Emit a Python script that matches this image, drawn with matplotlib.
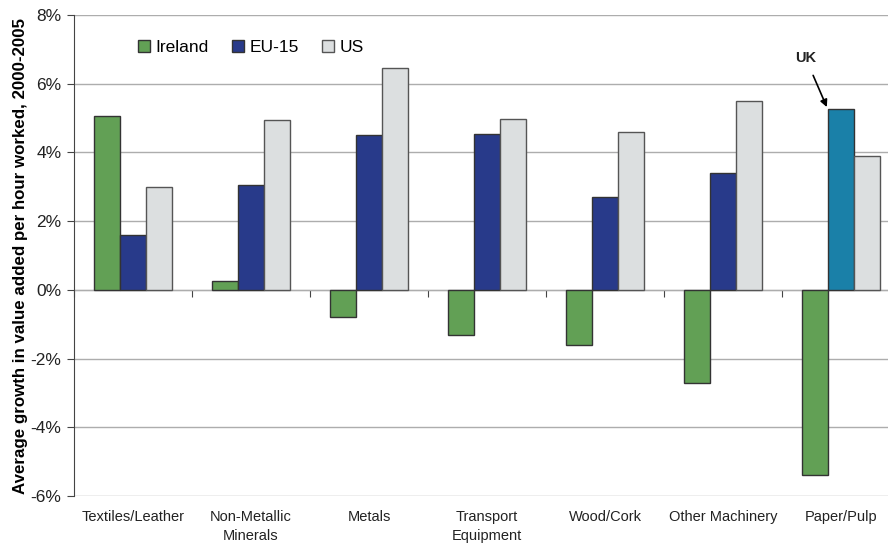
import matplotlib as mpl
mpl.use('Agg')
import matplotlib.pyplot as plt
import numpy as np

plt.rcParams['font.family'] = ['Liberation Sans', 'DejaVu Sans']

# data (% growth per year)
categories = ['Textiles/Leather', 'Non-Metallic\nMinerals', 'Metals', 'Transport\nEquipment',
              'Wood/Cork', 'Other Machinery', 'Paper/Pulp']
ireland = [5.05, 0.25, -0.8, -1.3, -1.6, -2.7, -5.4]
eu15 = [1.6, 3.05, 4.5, 4.55, 2.7, 3.4, 5.25]
us = [3.0, 4.95, 6.45, 4.97, 4.6, 5.5, 3.9]
uk_index = 6  # last EU-15 bar is really the UK

green = '#62a055'
navy = '#283a8a'
grey = '#dcdfe0'
teal = '#1a80a8'
edge = '#333333'

fig = plt.figure(figsize=(8.88, 5.47), dpi=100)
ax = fig.add_axes([74/888, 1-496/547, 826/888, 481/547])

x = np.arange(len(categories))
w = 0.22
ax.bar(x - w, ireland, w, color=green, edgecolor=edge, linewidth=1, label='Ireland', zorder=3)
eu_cols = [teal if i == uk_index else navy for i in range(len(eu15))]
ax.bar(x, eu15, w, color=eu_cols, edgecolor=edge, linewidth=1, label='EU-15', zorder=3)
ax.bar(x + w, us, w, color=grey, edgecolor='#555555', linewidth=1, label='US', zorder=3)

ax.set_xlim(-0.5, len(categories) - 0.5)
ax.set_ylim(-6, 8)
ax.set_yticks(np.arange(-6, 9, 2))
ax.set_yticklabels(['%d%%' % v for v in np.arange(-6, 9, 2)], fontsize=12.5, color='#222222')
ax.yaxis.grid(True, color='#adadad', linewidth=1, zorder=0)
ax.tick_params(axis='y', length=5, color='#444444', pad=4)

ax.set_xticks(x)
ax.set_xticklabels(categories, fontsize=10.5, color='#222222', linespacing=1.45)
ax.tick_params(axis='x', length=0, pad=10)

for s in ['top', 'right', 'bottom']:
    ax.spines[s].set_visible(False)
ax.spines['left'].set_color('#444444')

# zero line with tick marks between the categories
zero = ax.secondary_xaxis(6/14)
zero.set_xticks(np.arange(-0.5, len(categories), 1))
zero.set_xticklabels([])
zero.tick_params(axis='x', direction='out', length=5, color='#444444')
zero.spines['bottom'].set_color('#444444')

ax.set_ylabel('Average growth in value added per hour worked, 2000-2005',
              fontsize=12.2, fontweight='bold', labelpad=2)

ax.legend(loc='center left', bbox_to_anchor=(0.058, 0.933), ncol=3, frameon=False,
          fontsize=12.5, handlelength=0.7, handleheight=0.7, handletextpad=0.35,
          columnspacing=1.3)

ax.annotate('UK', xy=(5.88, 5.32), xytext=(5.7, 6.75), ha='center', va='center',
            fontsize=10.5, fontweight='bold', color='#222222',
            arrowprops=dict(arrowstyle='-|>', color='black', lw=1.2, shrinkA=6, shrinkB=0))

fig.savefig('out.png', dpi=100)
